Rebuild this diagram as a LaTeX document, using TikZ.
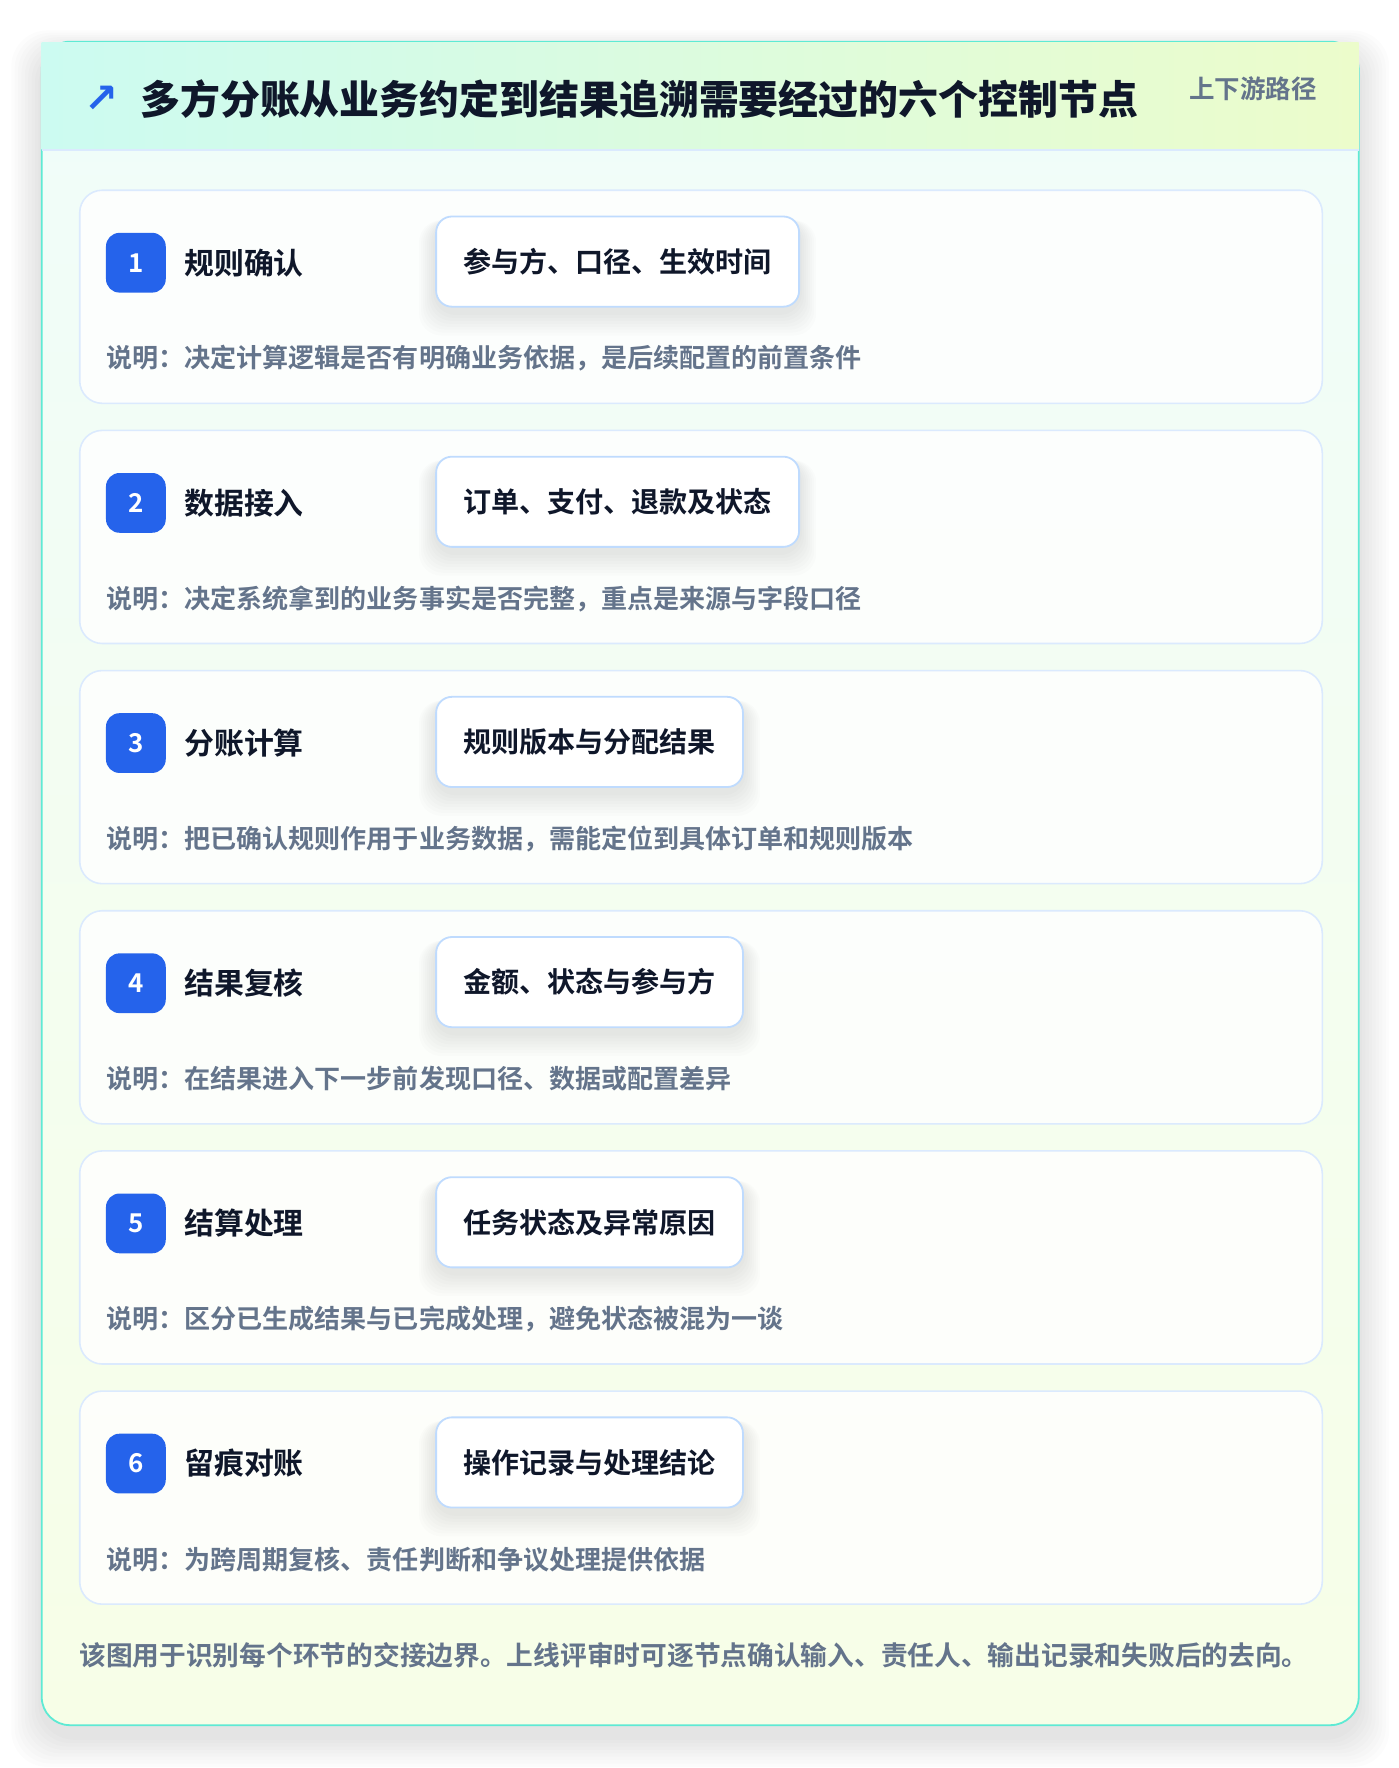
\documentclass[tikz,border=0pt]{standalone}
\usepackage{fontspec}
\setmainfont{Noto Sans CJK SC}[BoldFont={Noto Sans CJK SC Bold}]
\newfontfamily\symfont{DejaVu Sans}
\newfontfamily\heavyfont{Noto Sans CJK SC Black}
\usepackage{tikz}
\usetikzlibrary{positioning}

\definecolor{ink}{HTML}{0F172A}
\definecolor{muted}{HTML}{64748B}
\definecolor{badgeblue}{HTML}{2563EB}
\definecolor{cardline}{HTML}{DBEAFE}
\definecolor{pillline}{HTML}{BFDBFE}
\definecolor{frameline}{HTML}{5EEAD4}
\definecolor{headleft}{HTML}{CCFBF1}
\definecolor{headright}{HTML}{ECFCCB}
\definecolor{bodytop}{HTML}{F0FDFA}
\definecolor{bodybottom}{HTML}{F7FEE7}

\pgfdeclarelayer{bg}
\pgfdeclarelayer{back}
\pgfsetlayers{bg,back,main}

\tikzset{
  stepcard/.style={draw=cardline, line width=0.7pt, fill=white, fill opacity=0.8,
    rounded corners=10pt, minimum width=551pt, minimum height=94.5pt,
    anchor=north west, inner sep=0pt},
  badge/.style={fill=badgeblue, rounded corners=6pt, minimum size=26.5pt, inner sep=0pt,
    text=white, font=\bfseries\fontsize{11.5pt}{12pt}\selectfont},
  stepname/.style={anchor=west, inner sep=0pt, text=ink,
    font=\bfseries\fontsize{13.25pt}{15pt}\selectfont},
  tagbox/.style={anchor=west, draw=pillline, line width=0.8pt, fill=white,
    rounded corners=7pt, minimum height=40pt, inner xsep=12pt, inner ysep=0pt,
    text=ink, font=\bfseries\fontsize{12.45pt}{14pt}\selectfont},
  softshade/.style={fill=black, fill opacity=0.011, rounded corners=10pt}
}

\begin{document}
\begin{tikzpicture}[x=0.5pt, y=-0.5pt, line join=round, line cap=round]

  % page and outer frame
  \useasboundingbox (0,0) rectangle (1240,1568);
  \begin{pgfonlayer}{bg}
  \fill[white] (0,0) rectangle (1240,1568);
  \foreach \k in {1,...,9}
    \fill[black, fill opacity=0.012, rounded corners=16pt]
      (37-3*\k,37+8-2*\k) rectangle (1205+3*\k,1530+10+3*\k);
  \shade[rounded corners=12.5pt, top color=bodytop, bottom color=bodybottom]
    (37,37) rectangle (1205,1530);
  \draw[frameline, line width=0.8pt, rounded corners=12.5pt] (37,37) rectangle (1205,1530);

  % header band
  \shade[left color=headleft, right color=headright] (37,38) rectangle (1205,133);
  \draw[cardline, line width=0.8pt] (37,133) -- (1205,133);
  \end{pgfonlayer}
  \node[inner sep=0pt, text=badgeblue, font=\symfont\bfseries\fontsize{18pt}{18pt}\selectfont] (icon) at (90,88) {↗};
  \node[anchor=west, inner sep=0pt, text=ink, font=\heavyfont\fontsize{17.7pt}{20pt}\selectfont]
    (title) at (124,88) {多方分账从业务约定到结果追溯需要经过的六个控制节点};
  \node[anchor=east, inner sep=0pt, text=muted, font=\bfseries\fontsize{11.3pt}{13pt}\selectfont]
    (scope) at (1168,79) {上下游路径};

  % six steps
  \foreach \i/\name/\tag/\note in {
    1/规则确认/参与方、口径、生效时间/说明：决定计算逻辑是否有明确业务依据，是后续配置的前置条件,
    2/数据接入/订单、支付、退款及状态/说明：决定系统拿到的业务事实是否完整，重点是来源与字段口径,
    3/分账计算/规则版本与分配结果/说明：把已确认规则作用于业务数据，需能定位到具体订单和规则版本,
    4/结果复核/金额、状态与参与方/说明：在结果进入下一步前发现口径、数据或配置差异,
    5/结算处理/任务状态及异常原因/说明：区分已生成结果与已完成处理，避免状态被混为一谈,
    6/留痕对账/操作记录与处理结论/说明：为跨周期复核、责任判断和争议处理提供依据}
  {
    \pgfmathsetmacro{\rowy}{168+213*(\i-1)}
    \begin{pgfonlayer}{back}
    \node[stepcard] (card\i) at (70,\rowy) {};
    \end{pgfonlayer}
    \node[badge] (badge\i) at (120.5,\rowy+65) {\i};
    \node[stepname] (name\i) at (163,\rowy+65) {\name};
    \node[tagbox] (tag\i) at (386,\rowy+64) {\tag};
    \node[anchor=west, inner sep=0pt, text=muted, font=\bfseries\fontsize{11.55pt}{13pt}\selectfont]
      (note\i) at (94,\rowy+150) {\note};
    % soft shadow under the tag box
    \begin{pgfonlayer}{back}
    \foreach \k in {1,...,8}
      \fill[softshade] ([xshift=-0.9*\k pt, yshift=-2pt]tag\i.north west)
        rectangle ([xshift=0.9*\k pt, yshift=-2pt-1.3*\k pt]tag\i.south east);
    \end{pgfonlayer}
  }

  % footer remark
  \node[anchor=west, inner sep=0pt, text=muted, font=\bfseries\fontsize{11.85pt}{14pt}\selectfont]
    (remark) at (70,1468) {该图用于识别每个环节的交接边界。上线评审时可逐节点确认输入、责任人、输出记录和失败后的去向。};

\end{tikzpicture}
\end{document}
